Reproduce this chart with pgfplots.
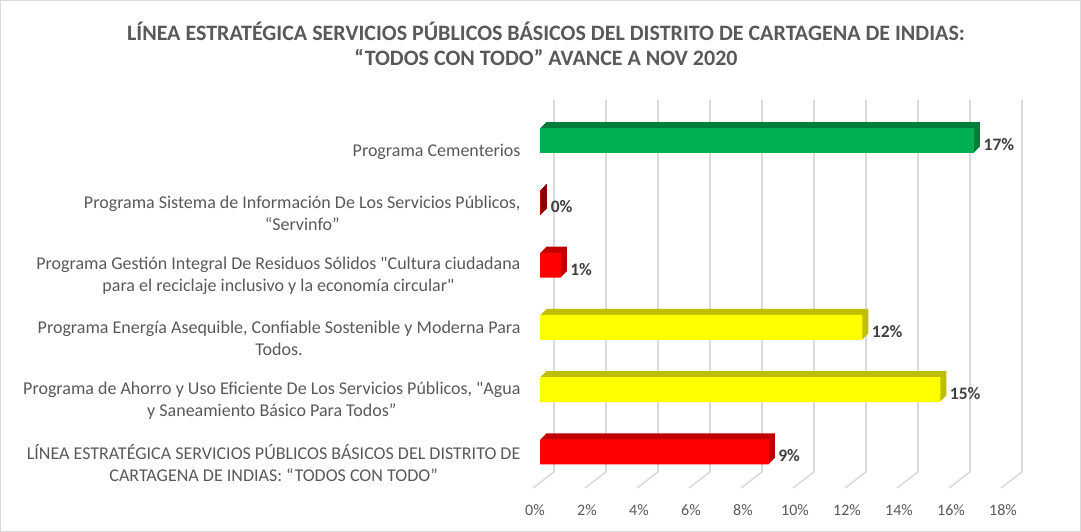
\documentclass[border=0pt]{standalone}
\usepackage{pgfplots}
\usepackage{pgfplotstable}
\pgfplotsset{compat=1.18}
\usepackage{fontspec}
\setmainfont{Carlito}[Ligatures=TeXOff]
\definecolor{titlegray}{HTML}{595959}
\definecolor{labelgray}{HTML}{595959}
\definecolor{valgray}{HTML}{404040}
\definecolor{gridgray}{HTML}{D9D9D9}
\definecolor{barGreen}{HTML}{00B050}
\definecolor{barGreenDk}{HTML}{007D3A}
\definecolor{barRed}{HTML}{FF0000}
\definecolor{barRedDk}{HTML}{C00000}
\definecolor{barDkRed}{HTML}{C00000}
\definecolor{barDkRedDk}{HTML}{8B0000}
\definecolor{barYel}{HTML}{FFFF00}
\definecolor{barYelDk}{HTML}{BFBF00}

% avance por programa (%), pos 0 = abajo, lab = rotulo redondeado
\pgfplotstableread{
val pos lab
16.7 5 17
}\tabGreen
\pgfplotstableread{
val pos lab
0.05 4 0
}\tabDkRed
\pgfplotstableread{
val pos lab
0.8 3 1
8.8 0 9
}\tabRed
\pgfplotstableread{
val pos lab
12.4 2 12
15.4 1 15
}\tabYel

% front face + fake depth made of shifted copies
\newcommand{\bars}[3]{%
  \pgfplotsinvokeforeach{1,...,6}{%
    \addplot[fill=#2, draw=none, xshift={##1pt-14pt}, yshift=##1pt] table[x=val, y=pos] {#3};
  }%
  \addplot[fill=#1, draw=none, xshift=-14pt, point meta=explicit symbolic,
    nodes near coords={\pgfplotspointmeta\%},
    nodes near coords style={anchor=west, font=\fontsize{17.5}{19}\selectfont\bfseries, text=valgray, xshift=6pt, yshift=-4pt}]
    table[x=val, y=pos, meta=lab] {#3};
}

\begin{document}
\begin{tikzpicture}[x=1pt, y=1pt]
\useasboundingbox (0,0) rectangle (1081,532);
\draw[gridgray] (0.5,0.5) rectangle (1080.5,531.5);
\node[font=\fontsize{22}{25}\selectfont\bfseries, text=titlegray, align=center]
  at (546,488) {LÍNEA ESTRATÉGICA SERVICIOS PÚBLICOS BÁSICOS DEL DISTRITO DE CARTAGENA DE INDIAS:\\“TODOS CON TODO” AVANCE A NOV 2020};

% floor lines of the 3D grid
\foreach \k in {0,...,9} \draw[gridgray, line width=1.5pt] (554+52*\k,60) -- ++(-21,-16);

\begin{axis}[
  at={(554pt,60pt)}, anchor=south west,
  scale only axis, width=468pt, height=372pt,
  xmin=0, xmax=18, ymin=-0.321, ymax=5.65,
  clip=false,
  xbar, bar width=25pt, bar shift=0pt,
  axis line style={draw=none},
  major tick length=0pt,
  xmajorgrids, grid style={gridgray, line width=1.5pt},
  xtick={0,2,...,18},
  xticklabels={0\%,2\%,4\%,6\%,8\%,10\%,12\%,14\%,16\%,18\%},
  xticklabel style={font=\fontsize{16}{18}\selectfont, text=labelgray, xshift=-19pt, yshift=-29pt},
  ytick={0,...,5},
  yticklabels={{LÍNEA ESTRATÉGICA SERVICIOS PÚBLICOS BÁSICOS DEL DISTRITO DE\\CARTAGENA DE INDIAS: “TODOS CON TODO”},
    {Programa de Ahorro y Uso Eficiente De Los Servicios Públicos, "Agua\\y Saneamiento Básico Para Todos”},
    {Programa Energía Asequible, Confiable Sostenible y Moderna Para\\Todos.},
    {Programa Gestión Integral De Residuos Sólidos "Cultura ciudadana\\para el reciclaje inclusivo y la economía circular"},
    {Programa Sistema de Información De Los Servicios Públicos,\\“Servinfo”},
    {Programa Cementerios}},
  yticklabel style={font=\fontsize{18}{22}\selectfont, text=labelgray, align=center, xshift=-30pt, yshift=-11pt},
]
\bars{barGreen}{barGreenDk}{\tabGreen}
\bars{barDkRed}{barDkRedDk}{\tabDkRed}
\bars{barRed}{barRedDk}{\tabRed}
\bars{barYel}{barYelDk}{\tabYel}
\end{axis}
\end{tikzpicture}
\end{document}
